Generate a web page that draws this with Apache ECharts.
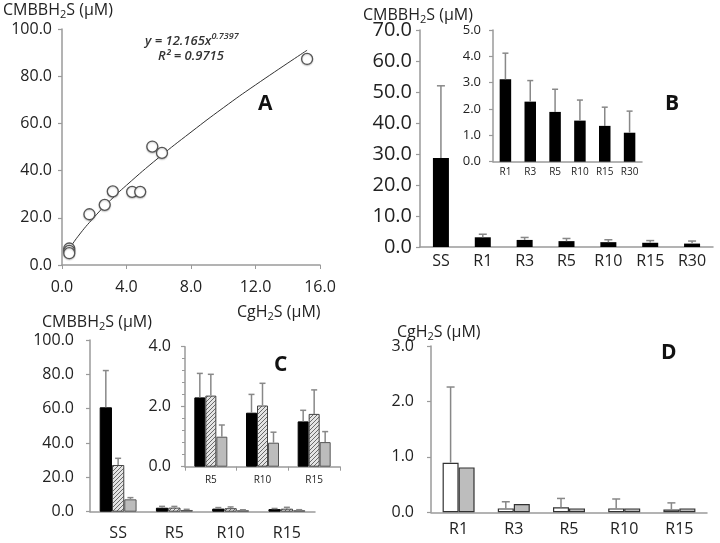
<!DOCTYPE html>
<html><head><meta charset="utf-8">
<script src="https://cdn.jsdelivr.net/npm/echarts@6/dist/echarts.min.js"></script>
<style>html,body{margin:0;padding:0;background:#fff}#c{width:720px;height:543px}</style>
</head><body><div id="c"></div>
<script>
// ---- data ----
const scatterX = [0.45, 0.45, 0.45, 1.7, 2.65, 3.15, 4.35, 4.85, 5.6, 6.2, 15.2];
const scatterY = [7.0, 6.0, 5.0, 21.5, 25.5, 31.2, 31.0, 31.0, 50.2, 47.5, 87.3];
const trendX = [0.4, 1, 2, 3, 4, 6, 8, 10, 12, 15.2];
const trendY = [6.2, 12.2, 20.3, 27.4, 33.8, 45.5, 56.3, 66.6, 76.3, 91.0];

const bCats = ['SS', 'R1', 'R3', 'R5', 'R10', 'R15', 'R30'];
const bVals = [28.7, 3.13, 2.28, 1.89, 1.56, 1.36, 1.1];
const bErr = [52.0, 4.12, 3.08, 2.75, 2.34, 2.07, 1.92];

const cCats = ['SS', 'R5', 'R10', 'R15'];
const cBlack = [60.8, 2.31, 1.8, 1.51];
const cBlackErr = [82.2, 3.11, 2.41, 1.88];
const cHatch = [27.2, 2.37, 2.04, 1.76];
const cHatchErr = [31.1, 3.08, 2.78, 2.56];
const cGray = [7.2, 1.0, 0.8, 0.82];
const cGrayErr = [8.2, 1.39, 1.15, 1.17];

const dCats = ['R1', 'R3', 'R5', 'R10', 'R15'];
const dWhite = [0.895, 0.07, 0.09, 0.07, 0.05];
const dWhiteErr = [2.26, 0.19, 0.25, 0.24, 0.17];
const dGray = [0.81, 0.15, 0.07, 0.07, 0.07];

// ---- styling helpers ----
const FONT = 'Open Sans';
const AX = '#9a9a9a';
const TXT = '#222';

function hatch() {
  const c = document.createElement('canvas'); c.width = 4; c.height = 4;
  const g = c.getContext('2d');
  g.fillStyle = '#e4e4e4'; g.fillRect(0, 0, 4, 4);
  g.strokeStyle = '#6a6a6a'; g.lineWidth = 1;
  g.beginPath();
  g.moveTo(0, 4); g.lineTo(4, 0);
  g.moveTo(-1, 1); g.lineTo(1, -1);
  g.moveTo(3, 5); g.lineTo(5, 3);
  g.stroke();
  return c;
}
const hatchFill = { image: hatch(), repeat: 'repeat' };

function valAxis(gi, min, max, interval, fs, margin, extra) {
  return Object.assign({
    type: 'value', gridIndex: gi, min: min, max: max, interval: interval,
    splitLine: { show: false },
    axisLine: { show: true, lineStyle: { color: AX, width: 1.5 } },
    axisTick: { show: true, length: 4, lineStyle: { color: AX, width: 1.2 } },
    axisLabel: { fontFamily: FONT, fontSize: fs, color: TXT, margin: margin,
      formatter: v => v.toFixed(1) }
  }, extra || {});
}
function catAxis(gi, cats, fs, margin, tick) {
  return {
    type: 'category', gridIndex: gi, data: cats,
    axisLine: { show: true, lineStyle: { color: AX, width: 1.5 } },
    axisTick: { show: !!tick, length: 4, lineStyle: { color: AX } },
    axisLabel: { fontFamily: FONT, fontSize: fs, color: TXT, margin: margin, interval: 0 }
  };
}
function errSeries(ai, vals, errs, off, cap) {
  const data = [];
  vals.forEach((v, i) => { if (errs[i] != null) data.push([i, v, errs[i]]); });
  return {
    type: 'custom', xAxisIndex: ai, yAxisIndex: ai, z: 5, silent: true, clip: false,
    encode: { x: 0, y: [1, 2] },
    data: data,
    renderItem: (params, api) => {
      const i = api.value(0), v = api.value(1), e = api.value(2);
      const p0 = api.coord([i, v]);
      const p1 = api.coord([i, e]);
      const x = p0[0] + off;
      const st = { stroke: '#888', lineWidth: 1.5 };
      return { type: 'group', children: [
        { type: 'line', shape: { x1: x, y1: p0[1], x2: x, y2: p1[1] }, style: st },
        { type: 'line', shape: { x1: x - cap, y1: p1[1], x2: x + cap, y2: p1[1] }, style: st }
      ] };
    }
  };
}
function sub(text, fs, left, top) {
  return {
    left: left, top: top, padding: 0,
    text: '{t|' + text[0] + '}{s|2}{t|' + text[1] + '}',
    textStyle: { fontWeight: 'normal', rich: {
      t: { fontFamily: FONT, fontSize: fs, fontWeight: 'normal', color: TXT, lineHeight: 20, verticalAlign: 'middle' },
      s: { fontFamily: FONT, fontSize: Math.round(fs * 0.68), fontWeight: 'normal', color: TXT, lineHeight: 10, verticalAlign: 'bottom' }
    } }
  };
}
function letter(t, left, top) {
  return { left: left, top: top, padding: 0, text: t,
    textStyle: { fontFamily: FONT, fontSize: 21, fontWeight: 'bold', color: '#111' } };
}

const chart = echarts.init(document.getElementById('c'), null, { renderer: 'canvas' });

const option = {
  animation: false,
  backgroundColor: '#fff',
  title: [
    sub(['CMBBH', 'S (μM)'], 16, 3, 0),
    sub(['CMBBH', 'S (μM)'], 16, 363, 5),
    sub(['CgH', 'S (μM)'], 16, 237, 302),
    sub(['CMBBH', 'S (μM)'], 16, 42, 312),
    sub(['CgH', 'S (μM)'], 16, 397, 322),
    { left: 145, top: 32, padding: 0, text: '{i|y = 12.165x}{e|0.7397}',
      textStyle: { fontWeight: 'normal', rich: {
        i: { fontFamily: FONT, fontStyle: 'italic', fontWeight: 600, fontSize: 13, color: '#333', lineHeight: 18, verticalAlign: 'middle' },
        e: { fontFamily: FONT, fontStyle: 'italic', fontWeight: 600, fontSize: 9, color: '#333', lineHeight: 10, verticalAlign: 'top' }
      } } },
    { left: 158, top: 50, padding: 0, text: 'R² = 0.9715',
      textStyle: { fontFamily: FONT, fontStyle: 'italic', fontWeight: 600, fontSize: 13, color: '#333' } },
    letter('A', 258, 94),
    letter('B', 665, 94),
    letter('C', 274, 355),
    letter('D', 661, 343)
  ],
  grid: [
    { left: 62, top: 29, width: 258, height: 236, outerBoundsMode: 'none' },
    { left: 420, top: 30, width: 293, height: 217, outerBoundsMode: 'none' },
    { left: 493, top: 30, width: 149, height: 131.7, outerBoundsMode: 'none' },
    { left: 90, top: 340, width: 225, height: 171.7, outerBoundsMode: 'none' },
    { left: 185, top: 346.7, width: 155, height: 120, outerBoundsMode: 'none' },
    { left: 431, top: 346, width: 276, height: 166.3, outerBoundsMode: 'none' }
  ],
  xAxis: [
    valAxis(0, 0, 16, 4, 16, 14, { axisTick: { show: true, length: 4, lineStyle: { color: AX } } }),
    catAxis(1, bCats, 16, 6),
    catAxis(2, bCats.slice(1), 10, 5),
    catAxis(3, cCats, 16, 14),
    catAxis(4, cCats.slice(1), 10, 8, true),
    catAxis(5, dCats, 16, 9)
  ],
  yAxis: [
    valAxis(0, 0, 100, 20, 16, 10),
    valAxis(1, 0, 70, 10, 20, 8),
    valAxis(2, 0, 5, 1, 13, 12),
    valAxis(3, 0, 100, 20, 16, 16),
    valAxis(4, 0, 4, 2, 16, 14, { minorTick: { show: true, splitNumber: 5, length: 3, lineStyle: { color: AX } } }),
    valAxis(5, 0, 3, 1, 16, 17)
  ],
  series: [
    { type: 'line', xAxisIndex: 0, yAxisIndex: 0, data: trendX.map((x, i) => [x, trendY[i]]),
      smooth: true, showSymbol: false, lineStyle: { color: '#333', width: 1 }, z: 2 },
    { type: 'scatter', xAxisIndex: 0, yAxisIndex: 0, data: scatterX.map((x, i) => [x, scatterY[i]]),
      symbol: 'circle', symbolSize: 11, z: 3,
      itemStyle: { color: '#fff', borderColor: '#555', borderWidth: 1.3, opacity: 1,
        shadowBlur: 1.5, shadowColor: 'rgba(0,0,0,0.2)', shadowOffsetY: 1 } },

    { type: 'bar', xAxisIndex: 1, yAxisIndex: 1, data: bVals, barWidth: 16, itemStyle: { color: '#000' } },
    errSeries(1, bVals, bErr, 0, 4),
    { type: 'bar', xAxisIndex: 2, yAxisIndex: 2, data: bVals.slice(1), barWidth: 11.5, itemStyle: { color: '#000' } },
    errSeries(2, bVals.slice(1), bErr.slice(1), 0, 3),

    { type: 'bar', xAxisIndex: 3, yAxisIndex: 3, data: cBlack, barWidth: 12.3, barGap: '0%',
      itemStyle: { color: '#000', borderColor: '#000', borderWidth: 1 } },
    { type: 'bar', xAxisIndex: 3, yAxisIndex: 3, data: cHatch, barWidth: 12.3, barGap: '0%',
      itemStyle: { color: hatchFill, borderColor: '#444', borderWidth: 1 } },
    { type: 'bar', xAxisIndex: 3, yAxisIndex: 3, data: cGray, barWidth: 12.3, barGap: '0%',
      itemStyle: { color: '#bcbcbc', borderColor: '#555', borderWidth: 1 } },
    errSeries(3, cBlack, cBlackErr, -12.3, 3),
    errSeries(3, cHatch, cHatchErr, 0, 3),
    errSeries(3, cGray, cGrayErr, 12.3, 3),

    { type: 'bar', xAxisIndex: 4, yAxisIndex: 4, data: cBlack.slice(1), barWidth: 11, barGap: '0%',
      itemStyle: { color: '#000', borderColor: '#000', borderWidth: 1 } },
    { type: 'bar', xAxisIndex: 4, yAxisIndex: 4, data: cHatch.slice(1), barWidth: 11, barGap: '0%',
      itemStyle: { color: hatchFill, borderColor: '#444', borderWidth: 1 } },
    { type: 'bar', xAxisIndex: 4, yAxisIndex: 4, data: cGray.slice(1), barWidth: 11, barGap: '0%',
      itemStyle: { color: '#bcbcbc', borderColor: '#555', borderWidth: 1 } },
    errSeries(4, cBlack.slice(1), cBlackErr.slice(1), -11, 3),
    errSeries(4, cHatch.slice(1), cHatchErr.slice(1), 0, 3),
    errSeries(4, cGray.slice(1), cGrayErr.slice(1), 11, 3),

    { type: 'bar', xAxisIndex: 5, yAxisIndex: 5, data: dWhite, barWidth: 16, barGap: '0%',
      itemStyle: { color: '#fff', borderColor: '#333', borderWidth: 1.2 } },
    { type: 'bar', xAxisIndex: 5, yAxisIndex: 5, data: dGray, barWidth: 16, barGap: '0%',
      itemStyle: { color: '#bdbdbd', borderColor: '#333', borderWidth: 1.2 } },
    errSeries(5, dWhite, dWhiteErr, -8, 4)
  ]
};
chart.setOption(option);
</script>
</body></html>
